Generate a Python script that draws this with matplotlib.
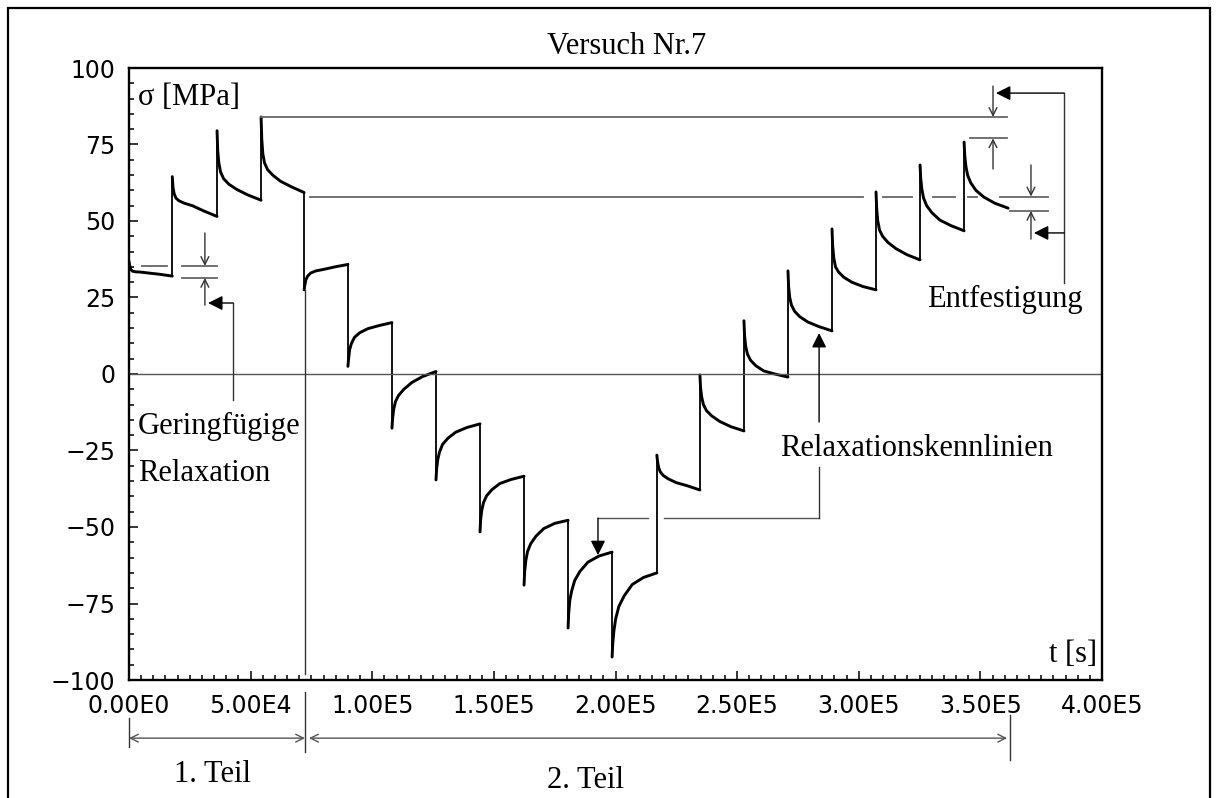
import numpy as np
import matplotlib.pyplot as plt
from matplotlib.patches import Rectangle
from matplotlib.ticker import MultipleLocator, FuncFormatter

# Zeitpunkte der Lastwechsel [s]
t_steps = [0, 1.78e4, 3.62e4, 5.43e4, 7.2e4, 9.0e4, 1.081e5, 1.262e5, 1.443e5,
           1.624e5, 1.805e5, 1.986e5, 2.17e5, 2.347e5, 2.528e5, 2.709e5,
           2.89e5, 3.071e5, 3.252e5, 3.433e5, 3.614e5]
# relative Lage der Ablesepunkte innerhalb einer Haltephase
f_read = [0, 0.015, 0.04, 0.08, 0.15, 0.27, 0.45, 0.7, 1.0]

# 1. Teil: Belastung [MPa]
sig_teil1 = [
    [36.8, 35.5, 34.2, 33.6, 33.4, 33.3, 33.0, 32.6, 32.0],
    [64.5, 61.0, 59.0, 57.5, 56.6, 55.8, 55.0, 53.3, 51.5],
    [79.5, 73.0, 69.0, 66.0, 63.8, 62.0, 60.3, 58.5, 56.8],
    [84.0, 77.0, 72.0, 69.0, 66.8, 65.0, 63.0, 61.2, 59.3],
]
# 2. Teil: Entlastung
sig_entl = [
    [27.5, 29.0, 30.8, 32.0, 33.0, 33.7, 34.2, 35.0, 35.8],
    [2.5, 5.0, 8.0, 10.0, 12.0, 13.5, 14.8, 15.8, 16.8],
    [-17.7, -14.5, -11.5, -9.0, -7.0, -5.0, -2.8, -0.8, 0.8],
    [-34.6, -31.0, -28.0, -25.5, -23.0, -21.0, -19.0, -17.5, -16.3],
    [-51.6, -47.5, -44.5, -42.0, -39.8, -37.8, -35.8, -34.5, -33.4],
    [-69.0, -64.5, -61.0, -58.0, -55.5, -53.0, -50.5, -48.8, -47.8],
    [-83.0, -78.0, -74.0, -71.0, -67.5, -64.5, -61.5, -59.5, -58.2],
    [-92.5, -88.0, -84.0, -80.0, -76.0, -72.5, -68.8, -66.5, -65.0],
]
# 2. Teil: Wiederbelastung
sig_wbel = [
    [-26.5, -28.5, -30.5, -32.0, -33.2, -34.3, -35.5, -36.5, -37.9],
    [-0.3, -4.5, -7.5, -10.0, -12.0, -13.7, -15.5, -17.2, -18.6],
    [17.4, 12.5, 9.0, 6.5, 4.5, 2.7, 1.0, 0.0, -1.0],
    [33.7, 28.5, 25.0, 22.5, 20.5, 18.7, 17.0, 15.5, 14.1],
    [47.4, 42.0, 38.0, 35.0, 33.3, 31.6, 30.0, 28.6, 27.5],
    [59.5, 54.0, 50.0, 47.0, 45.0, 43.0, 41.0, 39.0, 37.3],
    [68.3, 64.0, 60.5, 57.5, 55.0, 52.7, 50.3, 48.5, 46.8],
    [75.8, 71.5, 68.0, 65.0, 62.5, 60.0, 57.8, 55.8, 54.2],
]

xtick_vals = np.arange(0, 4.01e5, 5e4)

def fmt_e(v, pos):
    if v == 0:
        return "0.00E0"
    e = int(np.floor(np.log10(abs(v))))
    return "{:.2f}E{}".format(v / 10 ** e, e)

serif = "Liberation Serif"
tfs = 22
grey = "#666666"

fig = plt.figure(figsize=(12.18, 7.98), dpi=100)
ax = fig.add_axes([129 / 1218, 1 - 680 / 798, 973 / 1218, 612 / 798])

# Haltephasen dick, Lastspruenge duenn
segs = sig_teil1 + sig_entl + sig_wbel
for i, vals in enumerate(segs):
    t0, t1 = t_steps[i], t_steps[i + 1]
    tt = [t0 + f * (t1 - t0) for f in f_read]
    ax.plot(tt, vals, color="black", lw=2.1, solid_joinstyle="round",
            solid_capstyle="round")
    if i + 1 < len(segs):
        ax.plot([t1, t1], [vals[-1], segs[i + 1][0]], color="black", lw=1.3)
ax.axhline(0, color="#555555", lw=1.0)

ax.set_xlim(0, 4e5)
ax.set_ylim(-100, 100)
ax.set_xticks(xtick_vals)
ax.xaxis.set_major_formatter(FuncFormatter(fmt_e))
ax.xaxis.set_minor_locator(MultipleLocator(5e3))
ax.yaxis.set_major_locator(MultipleLocator(25))
ax.yaxis.set_minor_locator(MultipleLocator(5))
ax.tick_params(which="both", direction="in", top=False, right=False,
               labelsize=17, width=1.1)
ax.tick_params(which="major", length=6.5)
ax.tick_params(which="minor", length=3.6)
ax.tick_params(axis="x", pad=10)
ax.tick_params(axis="y", pad=10)
for sp in ax.spines.values():
    sp.set_linewidth(1.7)

# Texte
fig.text(627 / 1218, 1 - 47 / 798, "Versuch Nr.7", family=serif, fontsize=tfs,
         ha="center", va="center")
ax.text(3.7e3, 90.5, "σ [MPa]", family=serif, fontsize=tfs, va="center")
ax.text(3.98e5, -91.8, "t [s]", family=serif, fontsize=tfs, ha="right", va="center")
ax.text(3.7e3, -17.3, "Geringfügige", family=serif, fontsize=tfs, va="center")
ax.text(3.7e3, -32.4, "Relaxation", family=serif, fontsize=tfs, va="center")
ax.text(3.922e5, 24.2, "Entfestigung", family=serif, fontsize=tfs, ha="right",
        va="center")
ax.text(2.676e5, -24.2, "Relaxationskennlinien", family=serif, fontsize=tfs,
        va="center")
ax.text(3.45e4, -131, "1. Teil", family=serif, fontsize=tfs, ha="center",
        va="center", clip_on=False)
ax.text(1.875e5, -132.7, "2. Teil", family=serif, fontsize=tfs, ha="center",
        va="center", clip_on=False)

def hline(y, x0, x1, c=grey, lw=1.3):
    ax.plot([x0, x1], [y, y], color=c, lw=lw, clip_on=False)

def vline(x, y0, y1, c="#333333", lw=1.0):
    ax.plot([x, x], [y0, y1], color=c, lw=lw, clip_on=False)

def arrow(tail, tip, style="->", ms=14, c="#333333", lw=1.0):
    ax.annotate("", xy=tip, xytext=tail, annotation_clip=False,
                arrowprops=dict(arrowstyle=style, color=c, lw=lw,
                                mutation_scale=ms, shrinkA=0, shrinkB=0))

# Bezugslinien oben
hline(84, 5.43e4, 3.61e5)
hline(77, 3.457e5, 3.61e5)
for x0, x1 in [(7.44e4, 3.017e5), (3.10e5, 3.219e5), (3.305e5, 3.396e5),
               (3.449e5, 3.486e5), (3.581e5, 3.778e5)]:
    hline(58, x0, x1)
hline(53.3, 3.622e5, 3.778e5)
arrow((3.552e5, 94.1), (3.552e5, 84))
arrow((3.552e5, 67), (3.552e5, 77))
arrow((3.708e5, 68.3), (3.708e5, 58))
arrow((3.708e5, 44.1), (3.708e5, 53.3))

# Entfestigung-Klammer
vline(3.844e5, 91.8, 29.7)
arrow((3.844e5, 91.8), (3.564e5, 91.8), style="-|>", ms=22, c="black")
arrow((3.844e5, 46.1), (3.72e5, 46.1), style="-|>", ms=22, c="black")

# geringfuegige Relaxation
hline(35.3, 5.3e3, 1.56e4)
hline(35.3, 2.18e4, 3.62e4)
hline(31.4, 2.18e4, 3.62e4)
arrow((3.12e4, 46.1), (3.12e4, 35.3))
arrow((3.12e4, 22.5), (3.12e4, 31.4))
vline(4.28e4, 23.2, -8.5)
arrow((4.28e4, 23.2), (3.25e4, 23.2), style="-|>", ms=22, c="black")

# Relaxationskennlinien
hline(-47.1, 1.928e5, 2.134e5, c="#555555", lw=1.0)
hline(-47.1, 2.20e5, 2.837e5, c="#555555", lw=1.0)
vline(2.837e5, -47.1, -30.4)
arrow((1.928e5, -47.1), (1.928e5, -59.2), style="-|>", ms=22, c="black")
arrow((2.837e5, -15.7), (2.837e5, 13.4), style="-|>", ms=22, c="black")

# Trennlinie 1./2. Teil und Bemassung
vline(7.235e4, 27.5, -98)
vline(7.235e4, -103.9, -123.5)
vline(0, -112.4, -121.9)
vline(3.622e5, -111.4, -126.1)
arrow((0, -119), (7.235e4, -119), style="<->", ms=14, c="#555555")
arrow((7.4e4, -119), (3.61e5, -119), style="<->", ms=14, c="#555555")

# Rahmen
fig.patches.append(Rectangle((8 / 1218, -0.02), 1202 / 1218, 1.02 - 8 / 798,
                             transform=fig.transFigure, fill=False,
                             lw=1.6, ec="black"))

fig.savefig("out.png", dpi=100)
